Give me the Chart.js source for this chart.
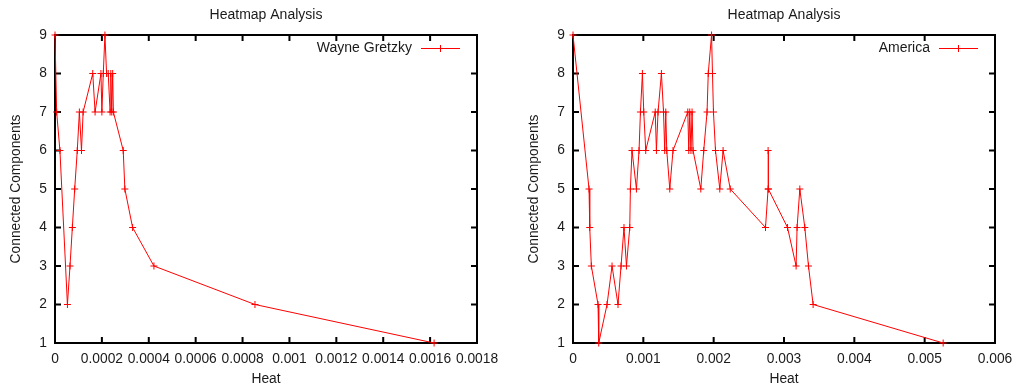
<!DOCTYPE html>
<html>
<head>
<meta charset="utf-8">
<title>Heatmap Analysis</title>
<script src="https://cdn.jsdelivr.net/npm/chart.js@4.4.0/dist/chart.umd.min.js"></script>
<style>
  html, body { margin: 0; padding: 0; background: #fff; }
  #wrap { position: relative; width: 1016px; height: 388px; }
  canvas { position: absolute; top: 0; }
  #gretzkyChart { left: 0; }
  #americaChart { left: 518px; }
</style>
</head>
<body>
<div id="wrap">
  <canvas id="gretzkyChart" width="518" height="388"></canvas>
  <canvas id="americaChart" width="498" height="388"></canvas>
</div>
<script>
// Heat vs connected components, one run per chart
const gretzkyHeat = [0, 0.000007, 0.000021, 0.000053, 0.000064, 0.000074, 0.000084, 0.000095, 0.000104, 0.000113, 0.00012,
  0.000161, 0.000171, 0.000196, 0.0002, 0.000206, 0.000213, 0.00022, 0.000227, 0.000235, 0.000238, 0.000242, 0.000246, 0.000249,
  0.000291, 0.000298, 0.000331, 0.000422, 0.000853, 0.001617];
const gretzkyComponents = [9, 7, 6, 2, 3, 4, 5, 6, 7, 6, 7,
  8, 7, 8, 7, 8, 9, 8, 8, 7, 8, 7, 8, 7,
  6, 5, 4, 3, 2, 1];

const americaHeat = [0, 0.000228, 0.000238, 0.000261, 0.000356, 0.000366,
  0.000484, 0.000555, 0.00064, 0.000683, 0.000725, 0.00076, 0.000807,
  0.000816, 0.000839, 0.000902, 0.000939, 0.000959, 0.000987, 0.001006, 0.001034,
  0.001169, 0.001186, 0.001209, 0.001257, 0.001287, 0.001304, 0.001319, 0.001333, 0.001376, 0.001422,
  0.001632, 0.001646, 0.00166, 0.001677, 0.001693, 0.001707,
  0.001817, 0.001859, 0.001906, 0.001923, 0.00197, 0.001983, 0.001997, 0.002026, 0.002087, 0.002134, 0.002236,
  0.002737, 0.002774, 0.002774, 0.00278,
  0.00305, 0.003172, 0.003186, 0.003225, 0.003296, 0.003348, 0.003414, 0.005263];
const americaComponents = [9, 5, 4, 3, 2, 1,
  2, 3, 2, 3, 4, 3, 4,
  5, 6, 5, 6, 7, 8, 7, 6,
  7, 6, 7, 8, 7, 6, 7, 6, 5, 6,
  7, 6, 7, 6, 7, 6,
  5, 6, 7, 8, 9, 8, 7, 6, 5, 6, 5,
  4, 5, 6, 5,
  4, 3, 4, 5, 4, 3, 2, 1];

// Axis tick values
const componentTicks = [1, 2, 3, 4, 5, 6, 7, 8, 9];
const gretzkyHeatTicks = [0, 0.0002, 0.0004, 0.0006, 0.0008, 0.001, 0.0012, 0.0014, 0.0016, 0.0018];
const americaHeatTicks = [0, 0.001, 0.002, 0.003, 0.004, 0.005, 0.006];

const TEXT = '#1a1a1a';
const FONT_FAMILY = '"Liberation Sans", Arial, sans-serif';
const FONT = { family: FONT_FAMILY, size: 13.8 };
const TICK_LEN = 6;

/**
 * Frame with inward ticks on all four sides, plus title and legend
 */
const frameAndLegend = {
  id: 'frameAndLegend',
  beforeDatasetsDraw(chart) {
    const { ctx, chartArea: a, scales: { x, y } } = chart;
    ctx.save();
    ctx.strokeStyle = '#000';
    ctx.lineWidth = 2;
    ctx.beginPath();
    x.ticks.forEach(t => {
      const px = x.getPixelForValue(t.value);
      ctx.moveTo(px, a.bottom);
      ctx.lineTo(px, a.bottom - TICK_LEN);
      ctx.moveTo(px, a.top);
      ctx.lineTo(px, a.top + TICK_LEN);
    });
    y.ticks.forEach(t => {
      const py = y.getPixelForValue(t.value);
      ctx.moveTo(a.left, py);
      ctx.lineTo(a.left + TICK_LEN, py);
      ctx.moveTo(a.right, py);
      ctx.lineTo(a.right - TICK_LEN, py);
    });
    ctx.stroke();
    ctx.strokeRect(a.left, a.top, a.right - a.left, a.bottom - a.top);
    ctx.restore();
  },
  afterDraw(chart) {
    const { ctx, chartArea: a } = chart;
    const ds = chart.data.datasets[0];
    ctx.save();
    ctx.fillStyle = TEXT;
    ctx.font = '14px ' + FONT_FAMILY;
    ctx.textBaseline = 'middle';

    // title centred over the plot
    ctx.textAlign = 'center';
    ctx.fillText('Heatmap Analysis', (a.left + a.right) / 2, 15);

    // key: label on the left, line sample on the right
    const ky = a.top + 13.5;
    ctx.textAlign = 'right';
    ctx.fillText(ds.label, a.right - 65, ky);
    ctx.strokeStyle = ds.borderColor;
    ctx.lineWidth = 1;
    ctx.beginPath();
    ctx.moveTo(a.right - 56, ky);
    ctx.lineTo(a.right - 17, ky);
    ctx.stroke();
    Chart.helpers.drawPoint(ctx, { pointStyle: 'cross', radius: ds.pointRadius, borderWidth: 1 }, a.right - 36.5, ky);
    ctx.restore();
  }
};

function buildChart(canvasId, label, heat, components, heatTicks, padRight) {
  const points = heat.map((h, i) => ({ x: h, y: components[i] }));

  return new Chart(document.getElementById(canvasId), {
    type: 'scatter',
    data: {
      datasets: [{
        label: label,
        data: points,
        showLine: true,
        borderColor: '#ff0000',
        borderWidth: 1,
        pointStyle: 'cross',
        pointRadius: 3.5,
        pointBorderWidth: 1,
        pointBorderColor: '#ff0000',
        pointBackgroundColor: '#ff0000',
        clip: false
      }]
    },
    options: {
      responsive: false,
      animation: false,
      events: [],
      layout: { padding: { top: 35, right: padRight, left: 0, bottom: 0 } },
      plugins: {
        legend: { display: false },
        tooltip: { enabled: false },
        title: { display: false }
      },
      scales: {
        x: {
          type: 'linear',
          min: heatTicks[0],
          max: heatTicks[heatTicks.length - 1],
          afterBuildTicks: s => { s.ticks = heatTicks.map(v => ({ value: v })); },
          // fixed height; layout padding already leaves room for the end labels
          afterFit: s => { s.height = 45; s.paddingLeft = 0; s.paddingRight = 0; },
          grid: { display: false, drawTicks: false },
          border: { display: false },
          ticks: { padding: 8, maxRotation: 0, autoSkip: false, color: TEXT, font: FONT, callback: v => String(v) },
          title: { display: true, text: 'Heat', color: TEXT, font: FONT, padding: { top: 0, bottom: 1 } }
        },
        y: {
          type: 'linear',
          min: componentTicks[0],
          max: componentTicks[componentTicks.length - 1],
          afterBuildTicks: s => { s.ticks = componentTicks.map(v => ({ value: v })); },
          afterFit: s => { s.width = 55; },
          grid: { display: false, drawTicks: false },
          border: { display: false },
          ticks: { padding: 8, autoSkip: false, color: TEXT, font: FONT, callback: v => String(v) },
          title: { display: true, text: 'Connected Components', color: TEXT, font: FONT, padding: { top: 8, bottom: 0 } }
        }
      }
    },
    plugins: [frameAndLegend]
  });
}

buildChart('gretzkyChart', 'Wayne Gretzky', gretzkyHeat, gretzkyComponents, gretzkyHeatTicks, 41);
buildChart('americaChart', 'America', americaHeat, americaComponents, americaHeatTicks, 21);
</script>
</body>
</html>
